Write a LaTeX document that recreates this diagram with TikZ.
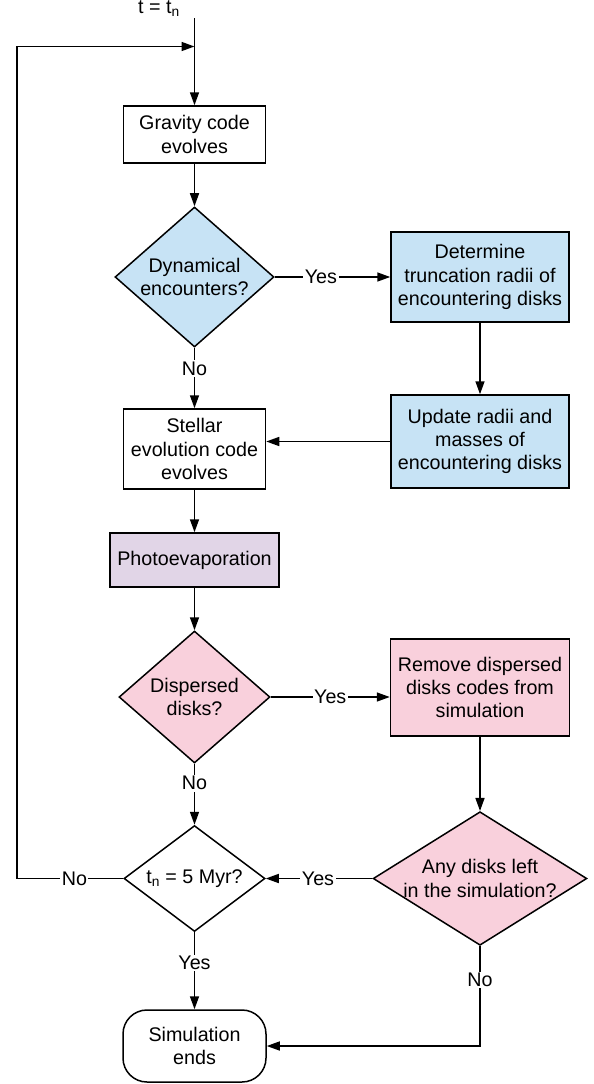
\documentclass[tikz,border=0pt]{standalone}
\usepackage{fontspec}
\setmainfont{Liberation Sans}
\usetikzlibrary{arrows.meta,calc,positioning,shapes.geometric}

\definecolor{encblue}{RGB}{199,227,245}
\definecolor{disppink}{RGB}{249,208,220}
\definecolor{photolilac}{RGB}{225,213,231}

\tikzset{
  proc/.style={draw,rectangle,align=center,inner sep=0pt},
  decide/.style={draw,diamond,align=center,inner sep=0pt},
  lbl/.style={fill=white,inner sep=1.5pt},
}

\begin{document}
\begin{tikzpicture}[x=1pt,y=-1pt,>={Triangle[length=13pt,width=9pt]},line width=1.5pt,
  font=\fontsize{19.7}{23.3}\selectfont]
  \useasboundingbox (0,0) rectangle (594,1084);

  \node (tnow) at (159,9) {t = t\textsubscript{n}};
  \coordinate (entry) at (194.5,18);
  \coordinate (loop) at (17,46.5);

  \node[proc,minimum width=142pt,minimum height=57pt] (grav) at (194.5,134.5) {Gravity code\\evolves};
  \node[decide,fill=encblue,minimum width=159pt,minimum height=140pt,aspect=1.14] (dyn) at (194.5,277) {Dynamical\\encounters?};
  \node[proc,fill=encblue,minimum width=178pt,minimum height=90pt] (det) at (480,277) {Determine\\truncation radii of\\encountering disks};
  \node[proc,fill=encblue,minimum width=178pt,minimum height=93pt] (upd) at (480,441.5) {Update radii and\\masses of\\encountering disks};
  \node[proc,minimum width=142pt,minimum height=80pt] (stel) at (194.5,449) {Stellar\\evolution code\\evolves};
  \node[proc,fill=photolilac,minimum width=169pt,minimum height=54pt] (photo) at (194.5,560) {Photoevaporation};
  \node[decide,fill=disppink,minimum width=151pt,minimum height=132pt,aspect=1.14] (disp) at (194.5,697) {Dispersed\\disks?};
  \node[proc,fill=disppink,minimum width=179pt,minimum height=97pt] (rem) at (480,687.5) {Remove dispersed\\disks codes from\\simulation};
  \node[decide,minimum width=141pt,minimum height=106pt,aspect=1.33] (t5) at (194.5,878.5) {t\textsubscript{n} = 5 Myr?};
  \node[decide,fill=disppink,minimum width=212pt,minimum height=132pt,aspect=1.6] (any) at (480,878.5) {Any disks left\\in the simulation?};
  \node[proc,rounded corners=24pt,minimum width=143pt,minimum height=72pt] (end) at (194.5,1046) {Simulation\\ends};

  \draw[->] (entry) -- (grav);
  \draw[->] (grav) -- (dyn);
  \draw[->] (dyn) -- node[lbl,pos=.4] {Yes} (det);
  \draw[->] (dyn) -- node[lbl,pos=.34] {No} (stel);
  \draw[->] (det) -- (upd);
  \draw[->] (upd.west) -- (upd.west -| stel.east);
  \draw[->] (stel) -- (photo);
  \draw[->] (photo) -- (disp);
  \draw[->] (disp.east) -- node[lbl] {Yes} (disp.east -| rem.west);
  \draw[->] (disp) -- node[lbl,pos=.32] {No} (t5);
  \draw[->] (rem) -- (any);
  \draw[->] (any) -- node[lbl,pos=.51] {Yes} (t5);
  \draw[->] (t5) -- node[lbl,pos=.4] {Yes} (end);
  \draw[->] (any) |- node[lbl,pos=.17] {No} (end);
  \draw[->] (t5) -| node[lbl,pos=.23] {No} (loop) -- (loop -| entry);
\end{tikzpicture}
\end{document}
